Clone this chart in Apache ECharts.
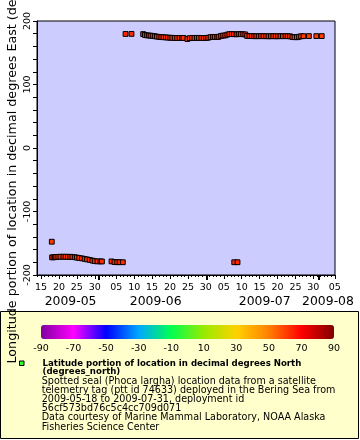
<!DOCTYPE html>
<html><head><meta charset="utf-8">
<script src="https://cdn.jsdelivr.net/npm/echarts@6/dist/echarts.min.js"></script>
<style>html,body{margin:0;padding:0;background:#fff}#c{width:360px;height:440px}</style>
</head><body><div id="c"></div>
<script>
// ---- data (UTC) ----
const times = [
'2009-05-18T00:00','2009-05-18T02:00','2009-05-18T12:00','2009-05-18T22:00','2009-05-19T06:00','2009-05-19T20:00',
'2009-05-20T10:00','2009-05-21T06:00','2009-05-21T20:00','2009-05-22T12:00','2009-05-23T04:00','2009-05-23T18:00',
'2009-05-24T10:00','2009-05-25T00:00','2009-05-25T16:00','2009-05-26T10:00','2009-05-27T04:00','2009-05-27T20:00',
'2009-05-28T14:00','2009-05-29T08:00','2009-05-30T00:00','2009-05-30T18:00','2009-05-31T14:00','2009-06-01T00:00',
'2009-06-03T16:00','2009-06-04T12:00','2009-06-05T06:00','2009-06-05T22:00','2009-06-06T20:00',
'2009-06-07T14:00','2009-06-09T06:00',
'2009-06-12T12:00','2009-06-13T00:00','2009-06-13T14:00','2009-06-14T02:00','2009-06-14T14:00','2009-06-15T04:00',
'2009-06-15T18:00','2009-06-16T08:00','2009-06-17T00:00','2009-06-17T14:00','2009-06-18T04:00','2009-06-18T20:00',
'2009-06-19T10:00','2009-06-20T02:00','2009-06-20T16:00','2009-06-21T08:00','2009-06-22T00:00','2009-06-22T16:00',
'2009-06-23T08:00','2009-06-23T18:00','2009-06-24T20:00','2009-06-25T12:00','2009-06-26T04:00','2009-06-26T20:00',
'2009-06-27T12:00','2009-06-28T02:00','2009-06-28T18:00','2009-06-29T10:00','2009-06-30T02:00','2009-06-30T16:00',
'2009-07-01T08:00','2009-07-02T00:00','2009-07-02T12:00','2009-07-03T04:00','2009-07-03T14:00','2009-07-04T06:00',
'2009-07-04T20:00','2009-07-05T10:00','2009-07-06T00:00','2009-07-06T14:00','2009-07-07T06:00','2009-07-07T20:00',
'2009-07-07T22:00','2009-07-08T14:00','2009-07-08T20:00','2009-07-09T04:00','2009-07-09T18:00','2009-07-10T10:00',
'2009-07-11T00:00','2009-07-11T12:00','2009-07-12T04:00','2009-07-12T20:00','2009-07-13T12:00','2009-07-14T02:00',
'2009-07-14T18:00','2009-07-15T10:00','2009-07-16T02:00','2009-07-16T20:00','2009-07-17T12:00','2009-07-18T04:00',
'2009-07-18T20:00','2009-07-19T12:00','2009-07-20T04:00','2009-07-20T20:00','2009-07-21T12:00','2009-07-22T06:00',
'2009-07-22T20:00','2009-07-23T12:00','2009-07-24T04:00','2009-07-24T18:00','2009-07-25T10:00','2009-07-26T00:00',
'2009-07-26T14:00','2009-07-27T06:00','2009-07-28T18:00','2009-07-30T20:00','2009-08-01T08:00'
];
const lons = [
-147.6,-172.2,-172.1,-171.9,-171.6,-171.4,
-171.2,-171.3,-171.2,-171.4,-171.3,-171.6,
-172.0,-172.6,-173.2,-173.8,-174.6,-175.4,
-176.2,-177.3,-178.2,-178.6,-178.5,-178.7,
-178.6,-179.6,-179.9,-179.8,-179.9,
179.6,179.7,
179.4,178.0,177.4,177.1,176.9,176.6,
176.0,175.4,174.9,174.6,174.4,174.2,
173.9,173.6,173.5,173.3,173.2,173.4,
173.2,173.3,171.6,173.0,173.4,173.2,
173.5,173.3,173.4,173.2,173.4,173.7,
174.6,174.9,175.0,174.8,175.2,176.6,
177.1,177.3,178.6,179.3,179.5,179.2,
-179.9,179.0,-179.9,179.4,179.3,179.1,
178.9,176.5,176.3,176.2,176.0,176.1,
176.0,176.2,176.0,176.1,175.9,176.0,
176.1,175.9,176.0,176.1,176.0,176.2,
176.0,175.9,174.8,174.5,174.4,175.2,
176.0,176.1,176.2,176.2,176.2
];
const lats = [
61.2,61.3,61.4,61.5,61.6,61.7,
61.8,61.9,62.0,62.1,62.2,62.3,
62.4,62.5,62.6,62.7,62.8,62.9,
63.0,63.1,63.2,63.3,63.3,63.4,
63.5,63.6,63.6,63.7,63.7,
63.8,63.8,
63.7,63.6,63.5,63.4,63.3,63.2,
63.1,63.0,62.9,62.8,62.7,62.6,
62.5,62.4,62.3,62.2,62.1,62.0,
61.9,61.8,61.7,61.8,61.9,62.0,
62.1,62.2,62.3,62.4,62.5,62.6,
62.7,62.8,62.9,63.0,63.1,63.2,
63.3,63.4,63.5,63.6,63.7,63.8,
63.9,63.9,63.9,63.8,63.7,63.6,
63.5,63.4,63.3,63.2,63.1,63.0,
62.9,62.8,62.7,62.6,62.5,62.4,
62.3,62.2,62.1,62.0,61.9,61.8,
61.7,61.6,61.5,61.4,61.3,61.2,
61.1,61.0,60.9,60.8,60.7
];
const xMinStr = '2009-05-13T21:00', xMaxStr = '2009-08-05T01:00';
const dayLabelDates = ['2009-05-15','2009-05-20','2009-05-25','2009-05-30','2009-06-05','2009-06-10','2009-06-15',
  '2009-06-20','2009-06-25','2009-06-30','2009-07-05','2009-07-10','2009-07-15','2009-07-20','2009-07-25','2009-07-30','2009-08-05'];
const monthLabelDates = ['2009-05-23T06:00','2009-06-16T00:00','2009-07-16T10:00','2009-08-03T02:00'];
const monthLabelTexts = ['2009-05','2009-06','2009-07','2009-08'];
const monthEndTicks = ['2009-05-31T05:00','2009-06-30T05:00','2009-07-31T10:00'];
const yTickLabels = [-200,-100,0,100,200];
const colorStops = ['#8000a0','#ff00ff','#0000ff','#00a8ff','#00ff50','#98ea00','#ffd200','#ff8000','#ff0000','#800000'];
const legendBold = ['Latitude portion of location in decimal degrees North','(degrees_north)'];
const legendLines = ['Spotted seal (Phoca largha) location data from a satellite',
  'telemetry tag (ptt id 74633) deployed in the Bering Sea from',
  '2009-05-18 to 2009-07-31, deployment id',
  '56cf573bd76c5c4cc709d071',
  'Data courtesy of Marine Mammal Laboratory, NOAA Alaska',
  'Fisheries Science Center'];
const yTitle = 'Longitude portion of location in decimal degrees East (degrees_east)';

// ---- build ----
const T = s => Date.parse(s + (s.length <= 10 ? 'T00:00' : '') + 'Z');
const xMin = T(xMinStr), xMax = T(xMaxStr);
const dailyTicks = [];
for (let t = T('2009-05-14'); t <= xMax; t += 86400000) dailyTicks.push(t);
const labelTicks = dayLabelDates.map(T);
const monthVals = monthLabelDates.map(T);
const data = times.map((s, i) => [T(s), lons[i], lats[i]]);
const FONT = 'DejaVu Sans';
const pad2 = n => (n < 10 ? '0' : '') + n;

const baseX = {type: 'value', gridIndex: 0, min: xMin, max: xMax, position: 'bottom',
  splitLine: {show: false}, axisLine: {show: false, onZero: false}, axisTick: {show: false}, axisLabel: {show: false}};

const option = {
  animation: false,
  backgroundColor: '#ffffff',
  grid: [
    {left: 37, top: 21, width: 298, height: 254, show: true, backgroundColor: '#ccccff', borderColor: '#000', borderWidth: 1},
    {left: 41, top: 325, width: 293, height: 14, show: false}
  ],
  xAxis: [
    Object.assign({}, baseX, {axisLine: {show: true, onZero: false, lineStyle: {color: '#000', width: 1}},
      axisTick: {show: true, customValues: dailyTicks, length: 2, lineStyle: {color: '#000'}}}),
    Object.assign({}, baseX, {axisTick: {show: true, customValues: labelTicks, length: 4, lineStyle: {color: '#000'}},
      axisLabel: {show: true, customValues: labelTicks, margin: 8, fontFamily: FONT, fontSize: 9.5, color: '#000',
        formatter: v => pad2(new Date(v).getUTCDate())}}),
    Object.assign({}, baseX, {axisLabel: {show: true, customValues: monthVals, margin: 21, fontFamily: FONT, fontSize: 12.4, color: '#000',
        formatter: v => monthLabelTexts[monthVals.indexOf(v)] || ''}}),
    Object.assign({}, baseX, {axisTick: {show: true, customValues: monthEndTicks.map(T), length: 5, lineStyle: {color: '#000', width: 2}}}),
    {type: 'value', gridIndex: 1, min: -90, max: 90, interval: 20, splitLine: {show: false},
      axisLine: {show: false, onZero: false}, axisTick: {show: false},
      axisLabel: {show: true, margin: 5, fontFamily: FONT, fontSize: 9.5, color: '#000', showMinLabel: true, showMaxLabel: true}}
  ],
  yAxis: [
    {type: 'value', gridIndex: 0, min: -200, max: 200, interval: 20, splitLine: {show: false},
      axisLine: {show: true, onZero: false, lineStyle: {color: '#000'}},
      axisTick: {show: true, length: 4, lineStyle: {color: '#000'}},
      axisLabel: {show: true, rotate: 90, margin: 4, fontFamily: FONT, fontSize: 9.5, color: '#000',
        customValues: yTickLabels, align: 'center', verticalAlign: 'bottom'}},
    {type: 'value', gridIndex: 1, show: false, min: 0, max: 1}
  ],
  visualMap: {
    type: 'continuous', seriesIndex: 0, dimension: 2, min: -90, max: 90,
    orient: 'horizontal', left: 41, top: 325, itemWidth: 14, itemHeight: 293, padding: 0,
    calculable: false, hoverLink: false, text: null, show: true,
    inRange: {color: colorStops}
  },
  series: [{
    type: 'scatter', xAxisIndex: 0, yAxisIndex: 0, data: data,
    symbol: 'rect', symbolSize: 4.8,
    itemStyle: {borderColor: '#000', borderWidth: 1, opacity: 1},
    emphasis: {disabled: true}
  }],
  graphic: [
    {type: 'rect', z: -10, shape: {x: 0.5, y: 311.5, width: 358, height: 127}, style: {fill: '#ffffcc', stroke: '#000', lineWidth: 1}, silent: true},
    {type: 'rect', z: 10, shape: {x: 19.5, y: 361, width: 4.5, height: 4.5}, style: {fill: '#33ff33', stroke: '#000', lineWidth: 1}, silent: true},
    ...legendBold.map((s, i) => ({type: 'text', z: 10, x: 42.5, y: 363.3 + i * 8.8, silent: true,
      style: {text: s, fill: '#000', font: 'bold 8.6px "DejaVu Sans"', textAlign: 'left', textVerticalAlign: 'middle'}})),
    ...legendLines.map((s, i) => ({type: 'text', z: 10, x: 41.7, y: 381.5 + i * 9.1, silent: true,
      style: {text: s, fill: '#000', font: '9.6px "DejaVu Sans"', textAlign: 'left', textVerticalAlign: 'middle'}})),
    {type: 'text', z: 20, x: 13, y: 363.5, rotation: Math.PI / 2, silent: true,
      style: {text: yTitle, fill: '#000', font: '12.7px "DejaVu Sans"', textAlign: 'left', textVerticalAlign: 'middle'}}
  ]
};
const chart = echarts.init(document.getElementById('c'), null, {renderer: 'canvas', width: 360, height: 440});
chart.setOption(option);
</script></body></html>
